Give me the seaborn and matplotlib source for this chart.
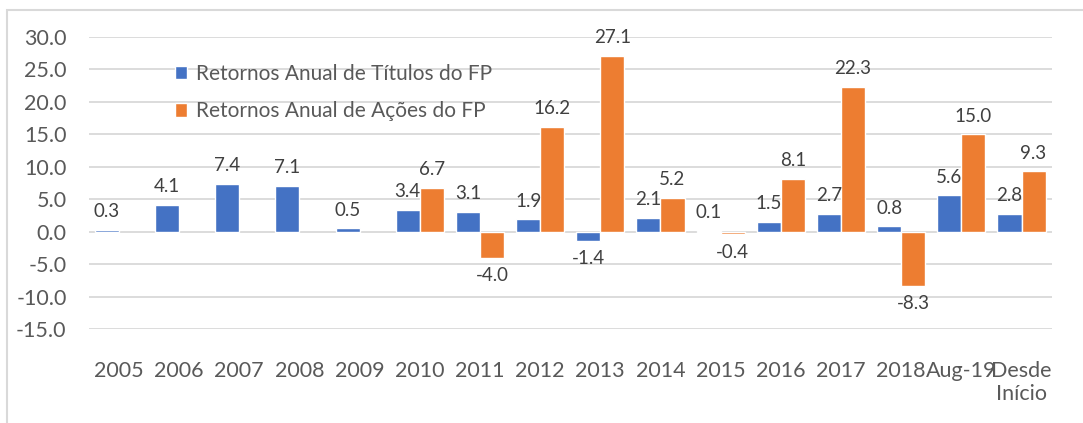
import matplotlib
matplotlib.use("Agg")
import matplotlib.pyplot as plt
from matplotlib.patches import Rectangle
import numpy as np
import pandas as pd
import seaborn as sns

categories = ["2005", "2006", "2007", "2008", "2009", "2010", "2011", "2012",
              "2013", "2014", "2015", "2016", "2017", "2018", "Aug-19",
              "Desde\nInício"]
titulos = [0.3, 4.1, 7.4, 7.1, 0.5, 3.4, 3.1, 1.9, -1.4, 2.1, 0.1, 1.5, 2.7,
           0.8, 5.6, 2.8]
acoes = [np.nan, np.nan, np.nan, np.nan, np.nan, 6.7, -4.0, 16.2, 27.1, 5.2,
         -0.4, 8.1, 22.3, -8.3, 15.0, 9.3]
series_names = ["Retornos Anual de Títulos do FP",
                "Retornos Anual de Ações do FP"]
y_ticks = [-15, -10, -5, 0, 5, 10, 15, 20, 25, 30]

TEXT = "#595959"
GRID = "#D9D9D9"
COLORS = ["#4472C4", "#ED7D31"]

df = pd.DataFrame({
    "cat": categories * 2,
    "val": titulos + acoes,
    "serie": [series_names[0]] * len(categories) + [series_names[1]] * len(categories),
})

sns.set_style("white")
plt.rcParams["font.family"] = ["Lato", "DejaVu Sans"]

fig = plt.figure(figsize=(10.83, 4.23), dpi=100)
ax = fig.add_axes([0.082, 0.2222, 0.889, 0.6903])

sns.barplot(
    data=df, x="cat", y="val", hue="serie", order=categories,
    hue_order=series_names, palette=COLORS, width=0.8, ax=ax,
    saturation=1, errorbar=None,
)

for cont in ax.containers:
    ax.bar_label(cont, fmt="%.1f", padding=7, fontsize=13.5, color="#404040")

ax.set_ylim(-15, 30)
ax.set_xlim(-0.5, len(categories) - 0.5)
ax.set_yticks(y_ticks)
ax.set_yticklabels([f"{t:.1f}" for t in y_ticks])
ax.yaxis.grid(True, color=GRID, linewidth=1.3)
ax.set_axisbelow(True)
for s in ax.spines.values():
    s.set_visible(False)
ax.tick_params(axis="y", length=0, pad=16, labelsize=15.5, labelcolor=TEXT)
ax.tick_params(axis="x", length=0, pad=23, labelsize=15.5, labelcolor=TEXT)
ax.set_xlabel("")
ax.set_ylabel("")

leg = ax.legend(
    loc="upper left", bbox_to_anchor=(156 / 1083, 1 - 45 / 423),
    bbox_transform=fig.transFigure, frameon=False, fontsize=15,
    handlelength=0.6, handleheight=0.6, handletextpad=0.4, labelspacing=0.85,
)
for t in leg.get_texts():
    t.set_color(TEXT)

fig.add_artist(Rectangle((7 / 1083, -0.05), 1.2, 1 - 10 / 423 + 0.05,
                         transform=fig.transFigure, fill=False,
                         edgecolor=GRID, linewidth=1.5))

fig.savefig("out.png", dpi=100)
